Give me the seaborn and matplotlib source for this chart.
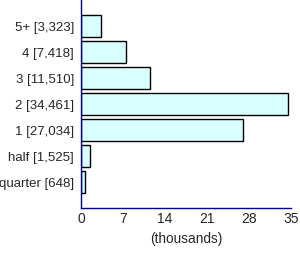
import matplotlib
matplotlib.use("Agg")
import matplotlib.pyplot as plt
import seaborn as sns
import pandas as pd

categories = ["5+", "4", "3", "2", "1", "half", "quarter"]
counts = [3323, 7418, 11510, 34461, 27034, 1525, 648]
x_ticks = [0, 7, 14, 21, 28, 35]

labels = [f"{c} [{n:,}]" for c, n in zip(categories, counts)]
df = pd.DataFrame({"label": labels, "value": [n / 1000 for n in counts]})

sns.set_style("white")
plt.rcParams["font.family"] = ["Liberation Sans", "DejaVu Sans"]

fig = plt.figure(figsize=(3.0, 2.54), dpi=100)
ax = fig.add_axes([81 / 300, 46 / 254, 210 / 300, 208 / 254])
sns.barplot(data=df, x="value", y="label", orient="h", color="#D9FFFF",
            edgecolor="black", linewidth=1.0, width=0.85, saturation=1, ax=ax)
ax.set_xlim(0, 35)
ax.set_ylim(7, -1)
ax.set_xticks(x_ticks)
ax.set_xticklabels([str(t) for t in x_ticks], fontsize=10)
ax.set_yticks(range(len(labels)))
ax.set_yticklabels(labels, fontsize=9.5)
ax.set_ylabel("")
ax.set_xlabel("(thousands)", fontsize=9.8, labelpad=4)
for s in ["top", "right"]:
    ax.spines[s].set_visible(False)
for s in ["left", "bottom"]:
    ax.spines[s].set_color("#000080")
    ax.spines[s].set_linewidth(1.0)
ax.tick_params(axis="y", direction="out", length=3, color="#000080", width=1, pad=2)
ax.tick_params(axis="x", direction="in", length=3, color="#000080", width=1, pad=3)
fig.savefig("out.png", dpi=100)
